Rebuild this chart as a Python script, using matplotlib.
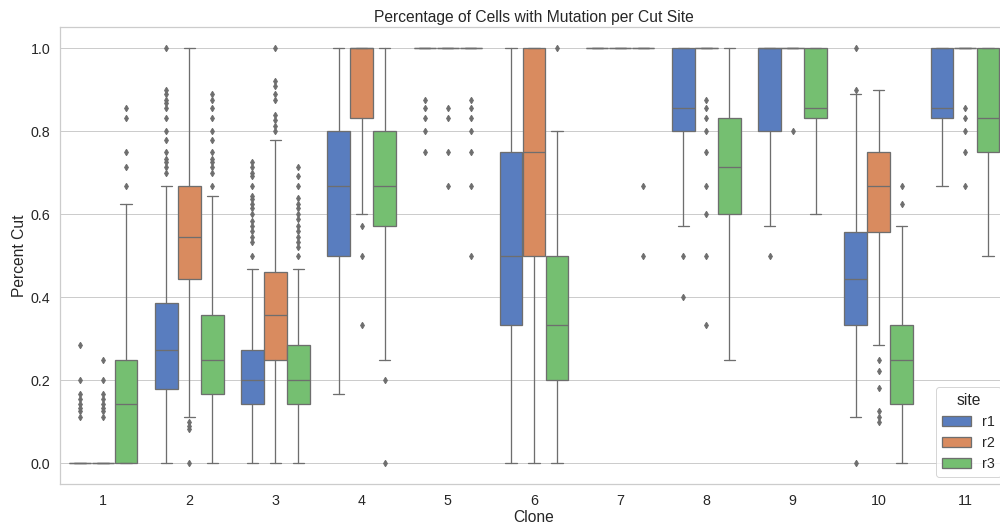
import numpy as np
import matplotlib
matplotlib.use("Agg")
import matplotlib.pyplot as plt
import matplotlib.patches as mpatches
import seaborn as sns

clones = ["1", "2", "3", "4", "5", "6", "7", "8", "9", "10", "11"]
sites = ["r1", "r2", "r3"]

# per-site box stats, one entry per clone
r1_lo = [0.0, 0.0, 0.0, 0.167, 1.0, 0.0, 1.0, 0.571, 0.571, 0.111, 0.667]
r1_q1 = [0.0, 0.18, 0.143, 0.5, 1.0, 0.333, 1.0, 0.8, 0.8, 0.333, 0.833]
r1_med = [0.0, 0.273, 0.2, 0.667, 1.0, 0.5, 1.0, 0.857, 1.0, 0.444, 0.857]
r1_q3 = [0.0, 0.385, 0.273, 0.8, 1.0, 0.75, 1.0, 1.0, 1.0, 0.556, 1.0]
r1_hi = [0.0, 0.667, 0.467, 1.0, 1.0, 1.0, 1.0, 1.0, 1.0, 0.889, 1.0]
r1_fliers = [
    [0.286, 0.2, 0.167, 0.154, 0.143, 0.133, 0.125, 0.111],
    [1.0, 0.9, 0.889, 0.875, 0.867, 0.857, 0.833, 0.8, 0.778, 0.75, 0.733,
     0.727, 0.714, 0.7],
    [0.727, 0.714, 0.7, 0.692, 0.667, 0.643, 0.636, 0.625, 0.615, 0.6,
     0.583, 0.571, 0.56, 0.545, 0.533, 0.5],
    [],
    [0.875, 0.857, 0.833, 0.8, 0.75],
    [],
    [],
    [0.5, 0.4],
    [0.5],
    [1.0, 0.9, 0.0],
    [],
]

r2_lo = [0.0, 0.111, 0.0, 0.6, 1.0, 0.0, 1.0, 1.0, 1.0, 0.286, 1.0]
r2_q1 = [0.0, 0.444, 0.25, 0.833, 1.0, 0.5, 1.0, 1.0, 1.0, 0.556, 1.0]
r2_med = [0.0, 0.545, 0.357, 1.0, 1.0, 0.75, 1.0, 1.0, 1.0, 0.667, 1.0]
r2_q3 = [0.0, 0.667, 0.462, 1.0, 1.0, 1.0, 1.0, 1.0, 1.0, 0.75, 1.0]
r2_hi = [0.0, 1.0, 0.778, 1.0, 1.0, 1.0, 1.0, 1.0, 1.0, 0.9, 1.0]
r2_fliers = [
    [0.25, 0.2, 0.167, 0.154, 0.143, 0.133, 0.125, 0.111],
    [0.1, 0.091, 0.083, 0.0],
    [1.0, 0.92, 0.909, 0.889, 0.875, 0.84, 0.828, 0.812, 0.8],
    [0.571, 0.5, 0.333],
    [0.857, 0.833, 0.75, 0.667],
    [],
    [],
    [0.875, 0.857, 0.833, 0.8, 0.75, 0.667, 0.6, 0.5, 0.333],
    [0.8],
    [0.25, 0.222, 0.182, 0.125, 0.111, 0.1],
    [0.857, 0.833, 0.8, 0.75, 0.667],
]

r3_lo = [0.0, 0.0, 0.0, 0.25, 1.0, 0.0, 1.0, 0.25, 0.6, 0.0, 0.5]
r3_q1 = [0.0, 0.167, 0.143, 0.571, 1.0, 0.2, 1.0, 0.6, 0.833, 0.143, 0.75]
r3_med = [0.143, 0.25, 0.2, 0.667, 1.0, 0.333, 1.0, 0.714, 0.857, 0.25, 0.833]
r3_q3 = [0.25, 0.357, 0.286, 0.8, 1.0, 0.5, 1.0, 0.833, 1.0, 0.333, 1.0]
r3_hi = [0.625, 0.643, 0.467, 1.0, 1.0, 0.8, 1.0, 1.0, 1.0, 0.571, 1.0]
r3_fliers = [
    [0.857, 0.833, 0.75, 0.714, 0.667],
    [0.889, 0.875, 0.857, 0.833, 0.8, 0.778, 0.75, 0.733, 0.727, 0.714,
     0.7, 0.667],
    [0.714, 0.692, 0.667, 0.64, 0.625, 0.615, 0.6, 0.588, 0.571, 0.56,
     0.545, 0.533, 0.52, 0.5],
    [0.2, 0.0],
    [0.875, 0.857, 0.833, 0.8, 0.75, 0.667, 0.5],
    [1.0],
    [0.667, 0.5],
    [],
    [],
    [0.667, 0.625],
    [],
]

site_stats = {
    "r1": (r1_lo, r1_q1, r1_med, r1_q3, r1_hi, r1_fliers),
    "r2": (r2_lo, r2_q1, r2_med, r2_q3, r2_hi, r2_fliers),
    "r3": (r3_lo, r3_q1, r3_med, r3_q3, r3_hi, r3_fliers),
}

sns.set_theme(style="whitegrid", font_scale=1.3)
plt.rcParams["font.family"] = ["Liberation Sans", "DejaVu Sans"]

palette = [sns.desaturate(c, 0.75) for c in sns.color_palette("muted", 3)]
gray = "#6e6e6e"
lw = 1.3

fig = plt.figure(figsize=(1000 / 72, 526 / 72), dpi=72)
ax = fig.add_axes([0.06, 0.0798, 0.948, 0.868])

n = len(sites)
each = 0.8 / n
offsets = np.linspace(-0.8 / 2 + each / 2, 0.8 / 2 - each / 2, n)
x = np.arange(len(clones))

for k, site in enumerate(sites):
    lo, q1, med, q3, hi, fl = site_stats[site]
    stats = []
    for i in range(len(clones)):
        stats.append(dict(whislo=lo[i], q1=q1[i], med=med[i], q3=q3[i],
                          whishi=hi[i], fliers=fl[i]))
    ax.bxp(stats, positions=x + offsets[k], widths=each * 0.98,
           patch_artist=True, manage_ticks=False,
           boxprops=dict(facecolor=palette[k], edgecolor=gray, linewidth=lw),
           medianprops=dict(color=gray, linewidth=lw),
           whiskerprops=dict(color=gray, linewidth=lw),
           capprops=dict(color=gray, linewidth=lw),
           flierprops=dict(marker="d", markerfacecolor=gray,
                           markeredgecolor=gray, markersize=4.5,
                           linestyle="none"))

ax.set_xlim(-0.5, len(clones) - 0.5)
ax.set_ylim(-0.05, 1.05)
ax.set_xticks(x)
ax.set_xticklabels(clones)
ax.set_yticks([0.0, 0.2, 0.4, 0.6, 0.8, 1.0])
ax.xaxis.grid(False)
ax.set_xlabel("Clone", labelpad=2)
ax.set_ylabel("Percent Cut")
ax.set_title("Percentage of Cells with Mutation per Cut Site", pad=5)

handles = [mpatches.Patch(facecolor=palette[k], edgecolor=gray, linewidth=lw,
                          label=s) for k, s in enumerate(sites)]
ax.legend(handles=handles, title="site", loc="lower right")

fig.savefig("out.png", dpi=72)
